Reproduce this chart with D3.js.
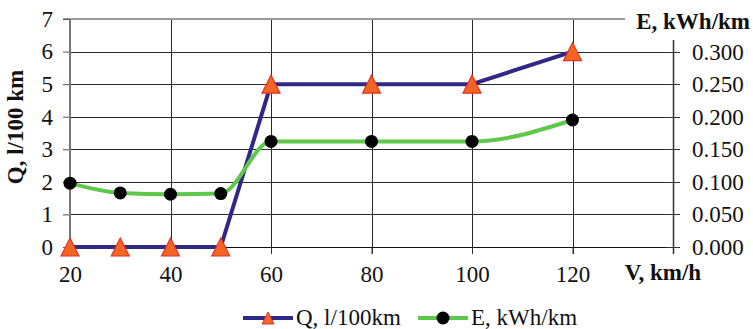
<!DOCTYPE html>
<html lang="en">
<head>
  <meta charset="UTF-8">
  <title>Q and E vs speed</title>
  <script src="https://d3js.org/d3.v7.min.js"></script>
  <style type="text/css">
    body { margin: 0; background: #fff; }
  </style>
</head>
<body>
<svg id="grafico"></svg>

<script>
  // data
  const speeds = [20, 30, 40, 50, 60, 80, 100, 120];
  const consumoQ = [0, 0, 0, 0, 5, 5, 5, 6];
  const energiaE = [0.098, 0.083, 0.081, 0.082, 0.162, 0.162, 0.162, 0.195];
  const ticksX = [20, 40, 60, 80, 100, 120];
  const gradeX = [40, 60, 80, 100, 120];
  const ticksQ = [0, 1, 2, 3, 4, 5, 6, 7];
  const ticksE = [0, 0.05, 0.1, 0.15, 0.2, 0.25, 0.3];
  const nomes = ["Q, l/100km", "E, kWh/km"];

  const largura = 753, altura = 329;
  const esq = 70, dir = 673, topo = 19, base = 247;
  const fonte = "'Liberation Serif', 'Times New Roman', 'DejaVu Serif', serif";
  const corQ = "#2f2886", corE = "#5ec84b";
  const laranja = "#f26522", vermelho = "#e2342a";

  const svg = d3.select("#grafico").attr("width", largura).attr("height", altura)
    .attr("font-family", fonte);

  const x = d3.scaleLinear().domain([20, 140]).range([esq, dir]);
  const yQ = d3.scaleLinear().domain([0, 7]).range([base, topo]);
  const yE = d3.scaleLinear().domain([0, 0.35]).range([base, topo]);

  // grade horizontal
  svg.append("g").selectAll("line")
    .data(ticksQ.filter(d => d > 0 && d < 7))
    .enter().append("line")
    .attr("x1", esq).attr("x2", dir)
    .attr("y1", d => Math.round(yQ(d)) + 0.5).attr("y2", d => Math.round(yQ(d)) + 0.5)
    .attr("stroke", "#2a2a2a").attr("stroke-width", 1);

  // grade vertical (desce até os ticks)
  svg.append("g").selectAll("line")
    .data(gradeX)
    .enter().append("line")
    .attr("x1", d => Math.round(x(d)) + 0.5).attr("x2", d => Math.round(x(d)) + 0.5)
    .attr("y1", topo).attr("y2", base + 7)
    .attr("stroke", "#2a2a2a").attr("stroke-width", 1);

  // linha do topo (cinza, para antes do título da direita)
  svg.append("line")
    .attr("x1", esq - 7).attr("x2", 625)
    .attr("y1", yQ(7)).attr("y2", yQ(7))
    .attr("stroke", "#9a9a9a").attr("stroke-width", 2);

  // eixo esquerdo
  const eixoQ = d3.axisLeft(yQ).tickValues(ticksQ).tickSize(7).tickPadding(10).tickFormat(d3.format("d"));
  const gQ = svg.append("g").attr("transform", `translate(${esq},0)`).call(eixoQ);
  gQ.attr("font-family", fonte);
  gQ.select(".domain").remove();
  gQ.selectAll(".tick line").attr("stroke", "#555");
  gQ.append("line").attr("x1", 0).attr("x2", 0).attr("y1", topo).attr("y2", base)
    .attr("stroke", "#777").attr("stroke-width", 2);
  gQ.selectAll("text").attr("font-size", 23).attr("fill", "#111");

  // eixo de baixo
  const eixoX = d3.axisBottom(x).tickValues(ticksX.concat([140])).tickSize(7).tickPadding(12);
  const gX = svg.append("g").attr("transform", `translate(0,${base})`).call(eixoX);
  gX.attr("font-family", fonte);
  gX.select(".domain").attr("stroke", "#111").attr("d", `M${esq},0.5H${dir}`);
  gX.selectAll(".tick line").attr("stroke", "#333");
  gX.selectAll("text").attr("font-size", 23).attr("fill", "#111")
    .text(d => d === 140 ? "" : d);
  svg.append("text")
    .attr("x", 663).attr("y", 280)
    .attr("text-anchor", "middle").attr("font-size", 23).attr("font-weight", "bold")
    .attr("fill", "#111").text("V, km/h");

  // eixo direito, ticks cruzados
  const gE = svg.append("g").attr("transform", `translate(${dir},0)`);
  gE.append("line").attr("x1", 0.5).attr("x2", 0.5).attr("y1", 40).attr("y2", base + 7)
    .attr("stroke", "#333").attr("stroke-width", 1.5);
  const tE = gE.selectAll(".tickE").data(ticksE).enter().append("g")
    .attr("class", "tickE")
    .attr("transform", d => `translate(0,${Math.round(yE(d)) + 0.5})`);
  tE.append("line").attr("x1", -7).attr("x2", 7).attr("stroke", "#333");
  tE.append("text").attr("x", 19).attr("dy", "0.32em")
    .attr("font-size", 23).attr("fill", "#111")
    .text(d => d3.format(".3f")(d));
  svg.append("text")
    .attr("x", 750).attr("y", 29)
    .attr("text-anchor", "end").attr("font-size", 23).attr("font-weight", "bold")
    .attr("fill", "#111").text("E, kWh/km");

  // título do eixo Q
  svg.append("text")
    .attr("transform", "translate(23,127) rotate(-90)")
    .attr("text-anchor", "middle").attr("font-size", 23).attr("font-weight", "bold")
    .attr("fill", "#111").text("Q, l/100 km");

  const dadosQ = speeds.map((v, i) => ({ v: v, q: consumoQ[i] }));
  const dadosE = speeds.map((v, i) => ({ v: v, e: energiaE[i] }));

  function triangulo(m) {
    return `M0,${-m}L${m},${m}L${-m},${m}Z`;
  }

  // série Q
  svg.append("path")
    .datum(dadosQ)
    .attr("fill", "none").attr("stroke", corQ).attr("stroke-width", 4)
    .attr("stroke-linejoin", "round")
    .attr("d", d3.line().x(d => x(d.v)).y(d => yQ(d.q)));
  svg.append("g").selectAll("path")
    .data(dadosQ)
    .enter().append("path")
    .attr("transform", d => `translate(${x(d.v)},${yQ(d.q)})`)
    .attr("d", triangulo(9))
    .attr("fill", laranja).attr("stroke", vermelho).attr("stroke-width", 1.2);

  // série E (suavizada)
  svg.append("path")
    .datum(dadosE)
    .attr("fill", "none").attr("stroke", corE).attr("stroke-width", 4)
    .attr("d", d3.line().curve(d3.curveMonotoneX).x(d => x(d.v)).y(d => yE(d.e)));
  svg.append("g").selectAll("circle")
    .data(dadosE)
    .enter().append("circle")
    .attr("cx", d => x(d.v)).attr("cy", d => yE(d.e)).attr("r", 6.5)
    .attr("fill", "#000");

  // legenda
  const leg = svg.append("g").attr("transform", "translate(0,318)");
  leg.append("line").attr("x1", 243).attr("x2", 293).attr("stroke", corQ).attr("stroke-width", 4);
  leg.append("path").attr("transform", "translate(268,0)").attr("d", triangulo(6))
    .attr("fill", laranja).attr("stroke", vermelho).attr("stroke-width", 1);
  leg.append("text").attr("x", 296).attr("dy", "0.32em").attr("font-size", 23).attr("fill", "#111").text(nomes[0]);
  leg.append("line").attr("x1", 418).attr("x2", 468).attr("stroke", corE).attr("stroke-width", 4);
  leg.append("circle").attr("cx", 443).attr("r", 6.5).attr("fill", "#000");
  leg.append("text").attr("x", 471).attr("dy", "0.32em").attr("font-size", 23).attr("fill", "#111").text(nomes[1]);
</script>
</body>
</html>
